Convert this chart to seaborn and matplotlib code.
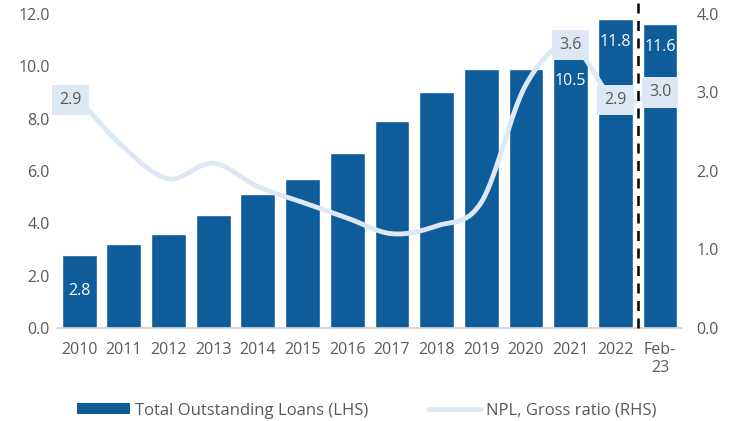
import numpy as np
import pandas as pd
import matplotlib
matplotlib.use("Agg")
import matplotlib.pyplot as plt
from matplotlib.patches import Patch
from matplotlib.lines import Line2D
import seaborn as sns

# Data
periods = ["2010", "2011", "2012", "2013", "2014", "2015", "2016", "2017",
           "2018", "2019", "2020", "2021", "2022", "Feb-\n23"]
loans = [2.8, 3.2, 3.6, 4.3, 5.1, 5.7, 6.7, 7.9, 9.0, 9.9, 9.9, 10.5, 11.8, 11.6]
npl_ratio = [2.9, 2.3, 1.9, 2.1, 1.8, 1.6, 1.4, 1.2, 1.3, 1.6, 3.1, 3.6, 2.9, 3.0]
loan_labels = ["2.8", "", "", "", "", "", "", "", "", "", "", "10.5", "11.8", "11.6"]
npl_labels = ["2.9", "", "", "", "", "", "", "", "", "", "", "3.6", "2.9", "3.0"]

left_ticks = [0, 2, 4, 6, 8, 10, 12]
right_ticks = [0, 1, 2, 3, 4]

BAR = "#0E5C99"
LINE = "#DDE8F4"
TXT = "#595959"
FS = 11.5

sns.set_theme(style="white")
plt.rcParams["font.family"] = ["Open Sans", "DejaVu Sans"]

fig = plt.figure(figsize=(7.29, 4.21), dpi=100)
ax = fig.add_axes([0.078, 0.221, 0.858, 0.746])

df = pd.DataFrame({"period": periods, "loans": loans})
sns.barplot(data=df, x="period", y="loans", order=periods, color=BAR,
            saturation=1, width=0.78, ax=ax)
ax.set_xlim(-0.5, len(periods) - 0.5)
ax.set_ylim(0, 12)
ax.set_yticks(left_ticks)
ax.set_yticklabels([f"{t:.1f}" for t in left_ticks])
ax.set_xlabel("")
ax.set_ylabel("")
for s in ["top", "right", "left"]:
    ax.spines[s].set_visible(False)
ax.spines["bottom"].set_color("#D0D0D0")
ax.spines["bottom"].set_linewidth(1.2)
ax.tick_params(axis="both", length=0, colors=TXT, labelsize=FS)
ax.tick_params(axis="x", pad=10)
ax.tick_params(axis="y", pad=5)

# bar value labels
for i, (v, lab) in enumerate(zip(loans, loan_labels)):
    if not lab:
        continue
    if i == 0:
        ax.text(i, v / 2, lab, ha="center", va="center", color="white", fontsize=FS)
    else:
        off = -28 if i == 11 else -23
        ax.annotate(lab, (i, v), xytext=(0, off), textcoords="offset pixels",
                    ha="center", va="center", color="white", fontsize=FS)

# secondary axis with smoothed NPL line
ax2 = ax.twinx()
ax2.set_ylim(0, 4)
ax2.set_yticks(right_ticks)
ax2.set_yticklabels([f"{t:.1f}" for t in right_ticks])
for s in ["top", "right", "left", "bottom"]:
    ax2.spines[s].set_visible(False)
ax2.tick_params(axis="y", length=0, colors=TXT, labelsize=FS, pad=10)


def catmull_rom(x, y, n=30):
    x = np.asarray(x, float)
    y = np.asarray(y, float)
    px = np.concatenate([[2 * x[0] - x[1]], x, [2 * x[-1] - x[-2]]])
    py = np.concatenate([[2 * y[0] - y[1]], y, [2 * y[-1] - y[-2]]])
    xs, ys = [], []
    t = np.linspace(0, 1, n, endpoint=False)
    for k in range(1, len(px) - 2):
        for arr, out in ((px, xs), (py, ys)):
            p0, p1, p2, p3 = arr[k - 1], arr[k], arr[k + 1], arr[k + 2]
            out.append(0.5 * (2 * p1 + (-p0 + p2) * t
                              + (2 * p0 - 5 * p1 + 4 * p2 - p3) * t ** 2
                              + (-p0 + 3 * p1 - 3 * p2 + p3) * t ** 3))
    xs = np.concatenate(xs + [[x[-1]]])
    ys = np.concatenate(ys + [[y[-1]]])
    return xs, ys


pos = np.arange(len(periods))
cx, cy = catmull_rom(pos, npl_ratio)
sns.lineplot(x=cx, y=cy, color=LINE, linewidth=3.5, ax=ax2, sort=False)

for i, (v, lab) in enumerate(zip(npl_ratio, npl_labels)):
    if not lab:
        continue
    dx = -9 if i == 0 else 0
    ax2.annotate(lab, (i, v), xytext=(dx, 0), textcoords="offset pixels",
                 ha="center", va="center", color=TXT, fontsize=FS,
                 bbox=dict(boxstyle="square,pad=0.45", fc=LINE, ec="none"))

# divider between annual and monthly figures
ax2.axvline(len(periods) - 1.5, ymin=0, ymax=1.045, color="black",
            linestyle=(0, (4, 3)), linewidth=1.8, clip_on=False)

handles = [Patch(facecolor=BAR, edgecolor="none"),
           Line2D([0], [0], color=LINE, linewidth=3.5)]
fig.legend(handles, ["Total Outstanding Loans (LHS)", "NPL, Gross ratio (RHS)"],
           loc="lower center", bbox_to_anchor=(0.503, -0.03), ncol=2, frameon=False,
           fontsize=12, labelcolor=TXT, handlelength=3.2, handleheight=0.6,
           handletextpad=0.3, columnspacing=3.6)

fig.savefig("out.png", dpi=100)
